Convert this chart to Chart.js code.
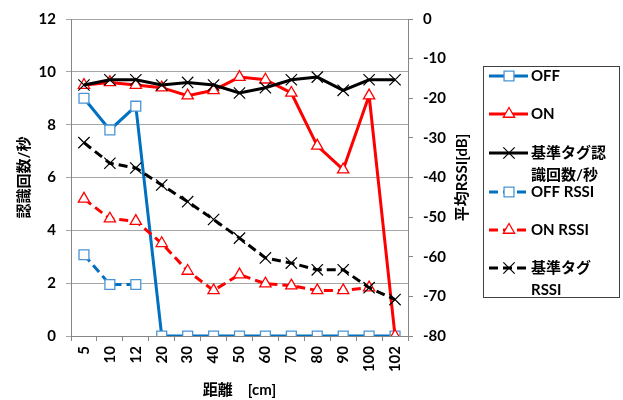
<!DOCTYPE html>
<html>
<head>
<meta charset="utf-8">
<script src="https://cdn.jsdelivr.net/npm/chart.js@4/dist/chart.umd.min.js"></script>
<style>
  html, body { margin: 0; padding: 0; background: #fff; }
  #wrap { width: 623px; height: 400px; position: relative; }
</style>
</head>
<body>
<div id="wrap"><canvas id="chart" width="623" height="400"></canvas></div>
<script>
// ==== Data ====
const distances = ['5', '10', '12', '20', '30', '40', '50', '60', '70', '80', '90', '100', '102'];

// counts per second (left axis)
const offCount = [9.0, 7.8, 8.7, 0, 0, 0, 0, 0, 0, 0, 0, 0, 0];
const onCount  = [9.5, 9.6, 9.5, 9.4, 9.1, 9.3, 9.8, 9.7, 9.2, 7.2, 6.3, 9.1, 0];
const refCount = [9.5, 9.7, 9.7, 9.5, 9.6, 9.5, 9.2, 9.4, 9.7, 9.8, 9.3, 9.7, 9.7];

// average RSSI in dB (right axis)
const offRssi = [-59.5, -67.0, -67.0, null, null, null, null, null, null, null, null, null, null];
const onRssi  = [-45.4, -50.4, -51.0, -56.6, -63.6, -68.5, -64.5, -66.8, -67.3, -68.5, -68.5, -67.8, null];
const refRssi = [-31.2, -36.4, -37.6, -41.9, -46.1, -50.6, -55.3, -60.3, -61.6, -63.3, -63.3, -67.8, -70.8];

const seriesNames = ['OFF', 'ON', '基準タグ認識回数/秒', 'OFF RSSI', 'ON RSSI', '基準タグRSSI'];
const legendLines = [['OFF'], ['ON'], ['基準タグ認', '識回数/秒'], ['OFF RSSI'], ['ON RSSI'], ['基準タグ', 'RSSI']];

const xTitle = '距離　[cm]';
const yTitle = '認識回数/秒';
const y2Title = '平均RSSI[dB]';

// ==== Styles ====
const FONT = "'Lato', 'Noto Sans CJK JP', sans-serif";
const BLUE = '#0070c0';
const BLUE_MK = '#4a94d6';
const RED = '#ff0000';
const BLACK = '#000000';
const AXIS = '#868686';
const GRID = '#a6a6a6';
const DASH = [9, 5];

function series(i, data, axis, color, mkColor, style, radius, dashed) {
  return {
    label: seriesNames[i],
    data,
    yAxisID: axis,
    borderColor: color,
    backgroundColor: color,
    borderWidth: 3,
    borderDash: dashed ? DASH : [],
    pointStyle: style,
    pointRadius: radius,
    pointBorderColor: mkColor,
    pointBackgroundColor: style === 'crossRot' ? mkColor : '#fff',
    pointBorderWidth: style === 'crossRot' ? 1.2 : 1.3,
    tension: 0,
    spanGaps: false,
    order: 6 - i
  };
}

const datasets = [
  series(0, offCount, 'y',  BLUE,  BLUE_MK, 'rect',     7,   false),
  series(1, onCount,  'y',  RED,   RED,     'triangle', 6.5, false),
  series(2, refCount, 'y',  BLACK, BLACK,   'crossRot', 8,   false),
  series(3, offRssi,  'y2', BLUE,  BLUE_MK, 'rect',     7,   true),
  series(4, onRssi,   'y2', RED,   RED,     'triangle', 6.5, true),
  series(5, refRssi,  'y2', BLACK, BLACK,   'crossRot', 8,   true)
];

// ---- right axis title (reads bottom to top) + boxed legend ----
const extras = {
  id: 'extras',
  afterDraw(chart) {
    const ctx = chart.ctx;
    const area = chart.chartArea;
    ctx.save();
    ctx.fillStyle = '#000';
    ctx.font = 'bold 15px ' + FONT;
    ctx.textAlign = 'center';
    ctx.textBaseline = 'middle';
    ctx.translate(462, (area.top + area.bottom) / 2);
    ctx.rotate(-Math.PI / 2);
    ctx.fillText(y2Title, 0, 0);
    ctx.restore();

    // legend box
    const box = { left: 483.5, top: 66.5, right: 619.5, bottom: 297.5 };
    ctx.save();
    ctx.strokeStyle = '#404040';
    ctx.lineWidth = 1;
    ctx.strokeRect(box.left, box.top, box.right - box.left, box.bottom - box.top);
    const rowsY = [76, 114, 153, 192, 230, 268];
    chart.data.datasets.forEach((ds, i) => {
      const y = rowsY[i];
      ctx.save();
      ctx.strokeStyle = ds.borderColor;
      ctx.lineWidth = 3;
      ctx.setLineDash(ds.borderDash);
      ctx.beginPath();
      ctx.moveTo(489, y);
      ctx.lineTo(528, y);
      ctx.stroke();
      ctx.setLineDash([]);
      ctx.strokeStyle = ds.pointBorderColor;
      ctx.fillStyle = ds.pointBackgroundColor;
      ctx.lineWidth = ds.pointBorderWidth;
      Chart.helpers.drawPoint(ctx, {
        pointStyle: ds.pointStyle,
        radius: ds.pointRadius,
        rotation: 0,
        borderWidth: ds.pointBorderWidth
      }, 509, y);
      ctx.restore();
      ctx.fillStyle = '#000';
      ctx.font = 'bold 15px ' + FONT;
      ctx.textAlign = 'left';
      ctx.textBaseline = 'middle';
      legendLines[i].forEach((t, k) => ctx.fillText(t, 531, y + k * 22));
    });
    ctx.restore();
  }
};

new Chart(document.getElementById('chart').getContext('2d'), {
  type: 'line',
  data: { labels: distances, datasets },
  options: {
    responsive: false,
    animation: false,
    layout: { padding: { top: 15, right: 175, bottom: 0, left: 0 } },
    plugins: { legend: { display: false }, tooltip: { enabled: false } },
    scales: {
      x: {
        offset: true,
        grid: { offset: true, drawOnChartArea: false, tickLength: 5, color: AXIS },
        border: { color: AXIS, width: 1 },
        ticks: { maxRotation: 90, minRotation: 90, padding: 5, color: '#000', font: { family: FONT, size: 15, weight: 'bold' } },
        title: { display: true, text: xTitle, color: '#000', padding: { top: 0, bottom: 1 }, font: { family: FONT, size: 15, weight: 'bold' } },
        afterFit: (s) => { s.height = 64; }
      },
      y: {
        position: 'left',
        min: 0, max: 12,
        grid: { color: GRID, tickLength: 5 },
        border: { color: AXIS },
        ticks: { stepSize: 2, padding: 10, color: '#000', font: { family: FONT, size: 15, weight: 'bold' } },
        title: { display: true, text: yTitle, color: '#000', padding: { top: 15, bottom: 0 }, font: { family: FONT, size: 15, weight: 'bold' } },
        afterFit: (s) => { s.width = 71; }
      },
      y2: {
        position: 'right',
        min: -80, max: 0,
        grid: { drawOnChartArea: false, color: AXIS, tickLength: 5 },
        border: { color: AXIS },
        ticks: { stepSize: 10, padding: 10, color: '#000', font: { family: FONT, size: 15, weight: 'bold' } },
        afterFit: (s) => { s.width = 40; }
      }
    }
  },
  plugins: [extras]
});
</script>
</body>
</html>
